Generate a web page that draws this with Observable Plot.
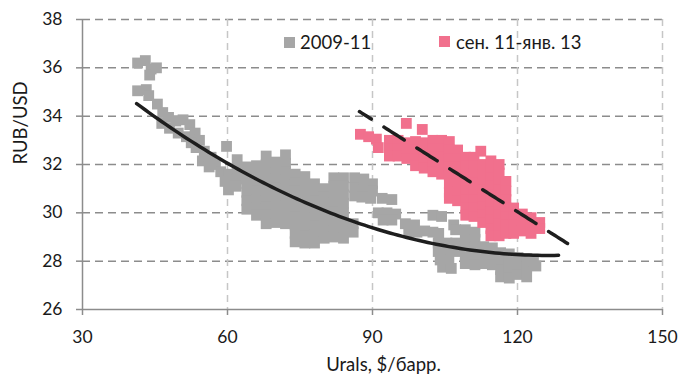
<!DOCTYPE html>
<html>
<head>
<meta charset="utf-8">
<script src="https://cdn.jsdelivr.net/npm/d3@7"></script>
<script src="https://cdn.jsdelivr.net/npm/@observablehq/plot@0.6"></script>
<style>
  html, body { margin: 0; padding: 0; background: #fff; }
  #wrap { position: relative; width: 682px; height: 385px; font-family: Lato, "Open Sans", sans-serif; }
  .lg-sq { position: absolute; width: 11px; height: 11px; }
  .lg-tx { position: absolute; font-size: 18.5px; line-height: 22px; color: #1a1a1a; white-space: nowrap; }
</style>
</head>
<body>
<div id="wrap"></div>
<script>
// ---- data ----
const xTicks = [30, 60, 90, 120, 150];
const yTicks = [26, 28, 30, 32, 34, 36, 38];
const seriesNames = ["2009-11", "сен. 11-янв. 13"];
const seriesColors = ["#a6a6a6", "#f1708d"];
const xLabel = "Urals, $/барр.";
const yLabel = "RUB/USD";

// 2009-11: [Urals, RUB/USD]
const gray2009_11 = [
[41.4,36.2],[43.0,36.3],[44.2,35.95],[43.9,35.7],[45.3,36.0],
[41.4,35.05],[43.2,35.1],[43.7,34.85],[45.5,34.5],
[46.6,34.15],[47.8,33.95],[46.4,33.7],[48.0,33.5],[49.3,33.8],[50.8,33.85],[52.2,33.65],[49.8,33.3],[51.5,33.15],[53.3,33.3],[54.2,33.0],[52.5,32.9],[53.5,32.7],[55.2,32.55],[56.6,32.3],[54.8,32.15],[57.5,32.0],[56.2,31.9],
[59.8,32.75],[58.6,31.7],[60.3,31.6],[59.5,31.3],[61.0,31.2],[60.2,30.95],
[62.0,32.2],[62.0,31.8],[62.2,31.4],[61.8,31.1],
[64,31.9],[64,31.55],[64,31.2],[64,30.85],[64,30.5],[64,30.15],
[66,31.95],[66,31.6],[66,31.25],[66,30.9],[66,30.55],[66,30.2],[66,29.9],
[68,32.35],[68,32.0],[68,31.65],[68,31.3],[68,30.95],[68,30.6],[68,30.25],[68,29.9],[68,29.55],
[70,32.1],[70,31.75],[70,31.4],[70,31.05],[70,30.7],[70,30.35],[70,30.0],[70,29.6],
[72,32.4],[72,32.05],[72,31.7],[72,31.35],[72,31.0],[72,30.65],[72,30.3],[72,29.95],[72,29.55],
[74,31.6],[74,31.25],[74,30.9],[74,30.55],[74,30.2],[74,29.85],[74,29.5],[74,29.15],[74,28.8],
[76,31.5],[76,31.15],[76,30.8],[76,30.45],[76,30.1],[76,29.75],[76,29.4],[76,29.05],[76,28.75],
[78,31.2],[78,30.85],[78,30.5],[78,30.15],[78,29.8],[78,29.45],[78,29.1],[78,28.75],
[80,31.0],[80,30.65],[80,30.3],[80,29.95],[80,29.6],[80,29.25],[80,28.95],
[82,31.45],[82,31.1],[82,30.75],[82,30.4],[82,30.05],[82,29.7],[82,29.35],[82,29.0],
[84,31.45],[84,31.1],[84,30.75],[84,30.4],[84,30.0],[84,29.6],[84,29.25],[84,28.95],
[86.3,31.45],[86.3,31.05],[86.3,30.7],[86.0,29.55],[86.0,29.2],
[88.2,31.4],[90.0,31.2],[88.2,31.0],[90.0,30.9],[87.8,30.65],[89.6,30.6],
[92.0,30.6],[94.0,30.55],
[91.2,30.0],[93.0,30.0],[94.8,29.95],[92.2,29.7],[94.0,29.7],
[96.8,29.55],[98.7,29.5],[97.5,29.2],[99.2,29.2],
[100.8,29.25],[102.5,29.2],[103.7,29.15],
[102.5,29.9],[104.3,29.85],
[106.8,29.5],[107.2,29.3],
[103.6,28.75],[105.4,28.75],[107.2,28.75],[103.6,28.4],[105.4,28.4],[107.2,28.4],[104.0,28.05],[105.8,28.05],[104.5,27.75],[106.3,27.7],
[109.2,29.3],[111.2,29.2],[109.2,28.95],[111.2,28.9],[109.2,28.6],[111.2,28.55],[113.0,28.6],[109.2,28.25],[111.2,28.2],[113.0,28.25],[109.2,27.9],[111.2,27.85],[113.0,27.9],
[114.8,28.55],[114.8,28.2],[114.8,27.85],[116.5,28.35],[116.5,28.0],[116.5,27.65],[116.5,27.35],
[118.3,28.3],[118.3,27.95],[118.3,27.6],[118.3,27.3],[120.1,28.15],[120.1,27.8],[120.1,27.45],[121.9,28.1],[121.9,27.75],[121.9,27.35],[123.3,28.0],[123.8,27.8]
];

// сен. 11 - янв. 13: [Urals, RUB/USD]
const pinkSep11_Jan13 = [
[87.5,33.25],[89.2,33.15],[90.8,33.05],[91.2,32.7],
[97.0,33.7],[100.3,33.45],
[93.5,33.0],[93.5,32.65],[93.5,32.35],
[95.3,33.0],[95.3,32.65],[95.3,32.35],
[97.1,32.9],[97.1,32.55],[97.1,32.25],
[98.9,32.95],[98.9,32.6],[98.9,32.25],[98.9,31.95],
[100.7,32.9],[100.7,32.55],[100.7,32.2],[100.7,31.85],
[102.5,33.0],[102.5,32.65],[102.5,32.3],[102.5,31.95],[102.5,31.7],
[104.3,33.0],[104.3,32.65],[104.3,32.3],[104.3,31.95],[104.3,31.6],
[105.9,32.95],[105.9,32.6],[105.9,32.25],[105.9,31.9],[105.9,31.55],[105.9,31.2],[105.9,30.85],[105.9,30.6],
[107.6,32.6],[107.6,32.25],[107.6,31.9],[107.6,31.55],[107.6,31.2],[107.6,30.85],[107.6,30.5],
[109.3,32.3],[109.3,31.95],[109.3,31.6],[109.3,31.25],[109.3,30.9],[109.3,30.55],[109.3,30.2],[109.3,29.9],
[111.0,32.3],[111.0,31.95],[111.0,31.6],[111.0,31.25],[111.0,30.9],[111.0,30.55],[111.0,30.2],[111.0,29.85],
[112.4,32.55],
[112.8,32.0],[112.8,31.65],[112.8,31.3],[112.8,30.95],[112.8,30.6],[112.8,30.25],[112.8,29.9],[112.8,29.6],
[114.5,32.15],[114.5,31.8],[114.5,31.45],[114.5,31.1],[114.5,30.75],[114.5,30.4],[114.5,30.05],[114.5,29.7],[114.5,29.35],[114.5,29.05],
[116.2,32.0],[116.2,31.65],[116.2,31.3],[116.2,30.95],[116.2,30.6],[116.2,30.25],[116.2,29.9],[116.2,29.55],[116.2,29.2],[116.2,29.05],
[117.6,31.3],[117.6,30.9],[117.6,30.55],[117.6,30.2],[117.6,29.85],[117.6,29.5],[117.6,29.15],
[119.2,30.2],[119.2,29.85],[119.2,29.5],[119.2,29.15],
[121.0,29.95],[121.0,29.6],[121.0,29.25],
[122.8,29.8],[122.8,29.45],[122.8,29.15],
[124.6,29.6],[124.6,29.35]
];

// Trendlines: coefficients [c0, c1, c2] (y = c0 + c1*x + c2*x^2) and x-range
const grayTrendCoef = [42.073, -0.21905, 0.000867];   // polynomial, order 2
const grayTrendRange = [41.2, 128.5];
const pinkTrendCoef = [45.26, -0.1268];               // linear
const pinkTrendRange = [87.3, 130.35];

function trendPoints(coef, range) {
  const [x0, x1] = range;
  return d3.range(0, 101).map(i => {
    const x = x0 + (x1 - x0) * i / 100;
    return {x, y: coef.reduce((s, ci, k) => s + ci * Math.pow(x, k), 0)};
  });
}
const grayTrend = trendPoints(grayTrendCoef, grayTrendRange);
const pinkTrend = trendPoints(pinkTrendCoef, pinkTrendRange);

const font = 'Lato, "Open Sans", sans-serif';
const axisColor = "#8c8c8c";

const chart = Plot.plot({
  width: 682,
  height: 385,
  marginLeft: 82,
  marginRight: 20,
  marginTop: 19,
  marginBottom: 76,
  style: {fontFamily: font, fontSize: "17.5px", color: "#1a1a1a", background: "#fff"},
  x: {domain: [30, 150], ticks: xTicks},
  y: {domain: [26, 38], ticks: yTicks},
  marks: [
    Plot.gridY(yTicks.filter(t => t > 26), {stroke: "#8c8c8c", strokeOpacity: 1, strokeWidth: 1.5, strokeDasharray: "8,5"}),
    Plot.gridX(xTicks.filter(t => t > 30), {stroke: "#c6c6c6", strokeOpacity: 1, strokeWidth: 1.5, strokeDasharray: "7,5"}),
    Plot.axisY({ticks: yTicks, tickSize: 6, tickPadding: 14, stroke: axisColor, strokeWidth: 1.5, label: null, fontSize: 17.5}),
    Plot.axisX({ticks: xTicks, tickSize: 6, tickPadding: 15, stroke: axisColor, strokeWidth: 1.5, label: null, fontSize: 17.5}),
    Plot.ruleX([30], {stroke: axisColor, strokeWidth: 1.5}),
    Plot.ruleY([26], {stroke: axisColor, strokeWidth: 1.5}),
    Plot.dot(gray2009_11, {x: d => d[0], y: d => d[1], symbol: "square", r: 6.1, fill: seriesColors[0], stroke: "none"}),
    Plot.dot(pinkSep11_Jan13, {x: d => d[0], y: d => d[1], symbol: "square", r: 6.1, fill: seriesColors[1], stroke: "none"}),
    Plot.line(grayTrend, {x: "x", y: "y", stroke: "#1e1e1e", strokeWidth: 3.5, strokeLinecap: "round"}),
    Plot.line(pinkTrend, {x: "x", y: "y", stroke: "#1e1e1e", strokeWidth: 3.5, strokeLinecap: "round", strokeDasharray: "24,15", strokeDashoffset: 10}),
    Plot.text([yLabel], {text: d => d, frameAnchor: "left", rotate: -90, dx: -61, fontSize: 18.5, fill: "#1a1a1a"}),
    Plot.text([xLabel], {text: d => d, frameAnchor: "bottom", dy: 61, dx: 11, fontSize: 18.5, fill: "#1a1a1a"})
  ]
});

const wrap = document.getElementById("wrap");
wrap.appendChild(chart);

// legend (inside plot area, top)
const legendPos = [{sq: [284, 37], tx: [300, 31]}, {sq: [439, 36], tx: [456, 31]}];
seriesNames.forEach((name, i) => {
  const sq = document.createElement("div");
  sq.className = "lg-sq";
  sq.style.left = legendPos[i].sq[0] + "px";
  sq.style.top = legendPos[i].sq[1] + "px";
  sq.style.background = seriesColors[i];
  wrap.appendChild(sq);
  const tx = document.createElement("div");
  tx.className = "lg-tx";
  tx.style.left = legendPos[i].tx[0] + "px";
  tx.style.top = legendPos[i].tx[1] + "px";
  tx.textContent = name;
  wrap.appendChild(tx);
});
</script>
</body>
</html>
